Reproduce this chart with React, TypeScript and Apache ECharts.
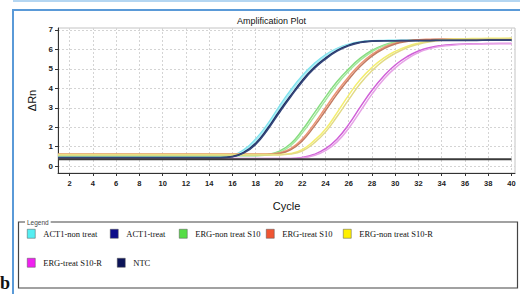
import React, { useEffect, useRef } from "react";
import * as echarts from "echarts";

// Cycle numbers (x values)
const cycles = [1, 2, 3, 4, 5, 6, 7, 8, 9, 10, 11, 12, 13, 14, 15, 16, 17, 18, 19, 20, 21, 22, 23, 24, 25, 26, 27, 28, 29, 30, 31, 32, 33, 34, 35, 36, 37, 38, 39, 40];

// ΔRn values per cycle, two replicate wells per sample
const act1NonTreatA = [0.5, 0.5, 0.5, 0.5, 0.5, 0.5, 0.5, 0.5, 0.5, 0.5, 0.5, 0.5, 0.5, 0.5, 0.5, 0.56, 0.85, 1.4, 2.15, 3.05, 3.9, 4.65, 5.25, 5.72, 6.05, 6.27, 6.4, 6.45, 6.46, 6.47, 6.47, 6.48, 6.48, 6.48, 6.49, 6.49, 6.49, 6.5, 6.5, 6.5];
const act1NonTreatB = [0.48, 0.48, 0.48, 0.48, 0.48, 0.48, 0.48, 0.48, 0.48, 0.48, 0.48, 0.48, 0.48, 0.48, 0.48, 0.53, 0.78, 1.3, 2.02, 2.92, 3.78, 4.55, 5.17, 5.66, 6.01, 6.24, 6.38, 6.44, 6.45, 6.46, 6.46, 6.47, 6.47, 6.47, 6.48, 6.48, 6.48, 6.48, 6.49, 6.49];
const act1TreatA = [0.45, 0.45, 0.45, 0.45, 0.45, 0.45, 0.45, 0.45, 0.45, 0.45, 0.45, 0.45, 0.45, 0.45, 0.45, 0.5, 0.72, 1.18, 1.92, 2.8, 3.62, 4.4, 5.05, 5.55, 5.95, 6.22, 6.37, 6.43, 6.45, 6.45, 6.46, 6.46, 6.46, 6.47, 6.47, 6.47, 6.47, 6.48, 6.48, 6.48];
const act1TreatB = [0.43, 0.43, 0.43, 0.43, 0.43, 0.43, 0.43, 0.43, 0.43, 0.43, 0.43, 0.43, 0.43, 0.43, 0.43, 0.48, 0.68, 1.12, 1.85, 2.72, 3.55, 4.33, 4.99, 5.5, 5.91, 6.19, 6.35, 6.42, 6.44, 6.44, 6.45, 6.45, 6.45, 6.46, 6.46, 6.46, 6.46, 6.47, 6.47, 6.47];
const ergNonS10A = [0.55, 0.55, 0.55, 0.55, 0.55, 0.55, 0.55, 0.55, 0.55, 0.55, 0.55, 0.55, 0.55, 0.55, 0.55, 0.55, 0.55, 0.55, 0.6, 0.76, 1.15, 1.85, 2.7, 3.55, 4.35, 5.0, 5.55, 5.95, 6.22, 6.38, 6.45, 6.48, 6.49, 6.5, 6.5, 6.51, 6.51, 6.52, 6.52, 6.52];
const ergNonS10B = [0.53, 0.53, 0.53, 0.53, 0.53, 0.53, 0.53, 0.53, 0.53, 0.53, 0.53, 0.53, 0.53, 0.53, 0.53, 0.53, 0.53, 0.53, 0.57, 0.7, 1.05, 1.7, 2.52, 3.38, 4.2, 4.88, 5.45, 5.88, 6.18, 6.35, 6.43, 6.47, 6.48, 6.49, 6.49, 6.5, 6.5, 6.5, 6.51, 6.51];
const ergTreatS10A = [0.62, 0.62, 0.62, 0.62, 0.62, 0.62, 0.62, 0.62, 0.62, 0.62, 0.62, 0.62, 0.62, 0.62, 0.62, 0.62, 0.62, 0.62, 0.62, 0.68, 0.9, 1.4, 2.15, 3.0, 3.85, 4.6, 5.25, 5.75, 6.1, 6.32, 6.44, 6.5, 6.52, 6.53, 6.53, 6.54, 6.54, 6.55, 6.55, 6.55];
const ergTreatS10B = [0.6, 0.6, 0.6, 0.6, 0.6, 0.6, 0.6, 0.6, 0.6, 0.6, 0.6, 0.6, 0.6, 0.6, 0.6, 0.6, 0.6, 0.6, 0.6, 0.65, 0.84, 1.3, 2.02, 2.85, 3.7, 4.47, 5.13, 5.66, 6.03, 6.28, 6.41, 6.48, 6.5, 6.51, 6.51, 6.52, 6.52, 6.53, 6.53, 6.53];
const ergNonS10RA = [0.6, 0.6, 0.6, 0.6, 0.6, 0.6, 0.6, 0.6, 0.6, 0.6, 0.6, 0.6, 0.6, 0.6, 0.6, 0.6, 0.6, 0.6, 0.6, 0.6, 0.65, 0.85, 1.3, 1.9, 2.75, 3.65, 4.45, 5.07, 5.55, 5.9, 6.15, 6.32, 6.43, 6.5, 6.53, 6.55, 6.56, 6.57, 6.57, 6.58];
const ergNonS10RB = [0.58, 0.58, 0.58, 0.58, 0.58, 0.58, 0.58, 0.58, 0.58, 0.58, 0.58, 0.58, 0.58, 0.58, 0.58, 0.58, 0.58, 0.58, 0.58, 0.58, 0.62, 0.78, 1.18, 1.75, 2.55, 3.42, 4.25, 4.9, 5.42, 5.8, 6.08, 6.27, 6.39, 6.47, 6.51, 6.53, 6.54, 6.55, 6.55, 6.56];
const ergTreatS10RA = [0.4, 0.4, 0.4, 0.4, 0.4, 0.4, 0.4, 0.4, 0.4, 0.4, 0.4, 0.4, 0.4, 0.4, 0.4, 0.4, 0.4, 0.4, 0.4, 0.4, 0.4, 0.45, 0.6, 0.9, 1.4, 2.15, 3.05, 3.9, 4.62, 5.2, 5.62, 5.92, 6.1, 6.2, 6.25, 6.28, 6.29, 6.3, 6.3, 6.31];
const ergTreatS10RB = [0.38, 0.38, 0.38, 0.38, 0.38, 0.38, 0.38, 0.38, 0.38, 0.38, 0.38, 0.38, 0.38, 0.38, 0.38, 0.38, 0.38, 0.38, 0.38, 0.38, 0.38, 0.42, 0.55, 0.8, 1.25, 1.95, 2.82, 3.7, 4.45, 5.05, 5.5, 5.84, 6.04, 6.16, 6.22, 6.26, 6.28, 6.29, 6.3, 6.3];
const ntc = [0.36, 0.36, 0.36, 0.36, 0.36, 0.36, 0.36, 0.36, 0.36, 0.36, 0.36, 0.36, 0.36, 0.36, 0.36, 0.36, 0.36, 0.36, 0.36, 0.36, 0.36, 0.36, 0.36, 0.36, 0.36, 0.36, 0.36, 0.36, 0.36, 0.36, 0.36, 0.36, 0.36, 0.36, 0.36, 0.36, 0.36, 0.36, 0.36, 0.36];

// Legend entries
const sampleNames = ["ACT1-non treat", "ACT1-treat", "ERG-non treat S10", "ERG-treat S10", "ERG-non treat S10-R", "ERG-treat S10-R", "NTC"];
const legendColors = ["#55eef2", "#0c0c8a", "#55dd45", "#f05533", "#fff000", "#f020f0", "#0c1458"];

// Tick labels
const xTicks = [2, 4, 6, 8, 10, 12, 14, 16, 18, 20, 22, 24, 26, 28, 30, 32, 34, 36, 38, 40];
const yTicks = [0, 1, 2, 3, 4, 5, 6, 7];

// Which sample each plotted trace belongs to, its values and its drawn line colour
const traces = [
  { sample: 0, values: act1NonTreatA, color: "#7fe3ee" },
  { sample: 0, values: act1NonTreatB, color: "#a6ecf4" },
  { sample: 2, values: ergNonS10A, color: "#86dd80" },
  { sample: 2, values: ergNonS10B, color: "#a4e89e" },
  { sample: 3, values: ergTreatS10A, color: "#ee9575" },
  { sample: 3, values: ergTreatS10B, color: "#c27a62" },
  { sample: 4, values: ergNonS10RA, color: "#f3ee70" },
  { sample: 4, values: ergNonS10RB, color: "#e2da86" },
  { sample: 5, values: ergTreatS10RA, color: "#d060d8" },
  { sample: 5, values: ergTreatS10RB, color: "#e6a2e6" },
  { sample: 1, values: act1TreatA, color: "#1c2a5e" },
  { sample: 1, values: act1TreatB, color: "#34467a" },
  { sample: 6, values: ntc, color: "#3a3a3a" },
];

// legend item positions (layout only)
const legendPos = [
  { left: 27, top: 229 },
  { left: 110, top: 229 },
  { left: 179, top: 229 },
  { left: 266, top: 229 },
  { left: 343, top: 229 },
  { left: 27, top: 258 },
  { left: 117, top: 258 },
];

export default function App() {
  const ref = useRef<HTMLDivElement>(null);
  useEffect(() => {
    if (!ref.current) return;
    const chart = echarts.init(ref.current, undefined, { renderer: "svg" });
    const sans = "Liberation Sans, Arial, sans-serif";
    const serif = "Liberation Serif, Times New Roman, serif";
    const option: any = {
      animation: false,
      backgroundColor: "#ffffff",
      title: {
        text: "Amplification Plot",
        left: 232,
        top: 11,
        textStyle: { fontSize: 9, fontWeight: "normal", color: "#111", fontFamily: sans },
      },
      grid: {
        left: 58,
        right: 5,
        top: 28,
        bottom: 121,
        show: true,
        borderColor: "#c4c4c4",
        borderWidth: 1,
      },
      xAxis: {
        type: "value",
        min: 1,
        max: 40.3,
        name: "Cycle",
        nameLocation: "middle",
        nameGap: 27,
        nameTextStyle: { fontSize: 11, color: "#111", fontFamily: sans },
        axisLine: { show: true, onZero: false, lineStyle: { color: "#333", width: 1 } },
        axisTick: { show: true, length: 3, customValues: xTicks, lineStyle: { color: "#333" } },
        axisLabel: { customValues: xTicks, fontSize: 7.5, color: "#222", margin: 6, fontFamily: sans, fontWeight: "bold" },
        splitLine: { show: true, lineStyle: { color: "#d4d4d4", type: [2, 2], width: 1 } },
      },
      yAxis: {
        type: "value",
        min: -0.35,
        max: 7.1,
        name: "ΔRn",
        nameLocation: "middle",
        nameGap: 19,
        nameRotate: 90,
        nameTextStyle: { fontSize: 11, color: "#111", fontFamily: sans },
        axisLine: { show: true, lineStyle: { color: "#333", width: 1 } },
        axisTick: { show: true, length: 3, customValues: yTicks, lineStyle: { color: "#333" } },
        axisLabel: { customValues: yTicks, fontSize: 8, color: "#222", margin: 5, fontFamily: sans, fontWeight: "bold" },
        splitLine: { show: true, lineStyle: { color: "#d4d4d4", type: [2, 2], width: 1 } },
      },
      legend: sampleNames.map((name, i) => ({
        left: legendPos[i].left,
        top: legendPos[i].top,
        padding: 0,
        icon: "rect",
        itemWidth: 8,
        itemHeight: 9,
        selectedMode: false,
        textStyle: { fontFamily: serif, fontSize: 8.5, color: "#111", padding: [0, 0, 0, 3] },
        data: [{ name, itemStyle: { color: legendColors[i], borderColor: "#555", borderWidth: 0.5 } }],
      })),
      series: traces.map((t) => ({
        type: "line",
        name: sampleNames[t.sample],
        data: cycles.map((c, i) => [c, t.values[i]]),
        showSymbol: false,
        symbol: "none",
        smooth: 0.5,
        color: legendColors[t.sample],
        lineStyle: { color: t.color, width: t.sample === 6 ? 2 : 1.5 },
        z: t.sample === 6 ? 5 : 3,
      })),
      graphic: [
        { type: "rect", silent: true, shape: { x: 13, y: 0, width: 507, height: 2 }, style: { fill: "#b4d6f2" } },
        { type: "rect", silent: true, shape: { x: 13, y: 10, width: 520, height: 300 }, style: { fill: "none", stroke: "#5a9ad8", lineWidth: 2 } },
        { type: "rect", silent: true, shape: { x: 18.5, y: 222, width: 499, height: 66 }, style: { fill: "none", stroke: "#444", lineWidth: 1.2 } },
        { type: "text", silent: true, x: 25, y: 218.5, style: { text: "Legend", fontSize: 6.5, fill: "#444", fontFamily: sans, backgroundColor: "#fff", padding: [0, 2, 0, 2] } },
        { type: "text", silent: true, x: 0, y: 274, style: { text: "b", fontSize: 18, fontWeight: "bold", fill: "#111", fontFamily: serif } },
      ],
    };
    chart.setOption(option);
    return () => chart.dispose();
  }, []);
  return (
    <div
      ref={ref}
      style={{ position: "fixed", left: 0, top: 0, width: 520, height: 294, background: "#fff" }}
    />
  );
}
